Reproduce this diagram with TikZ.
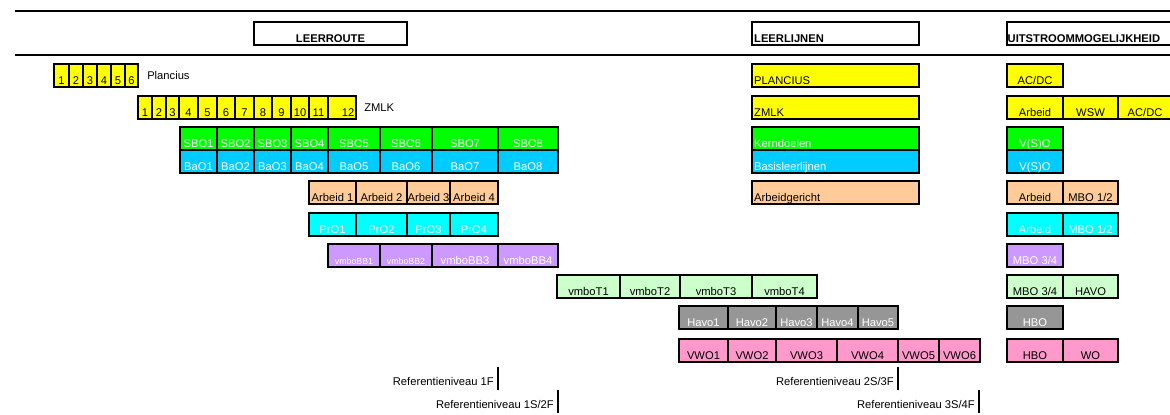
\documentclass[tikz,border=0pt]{standalone}
\usepackage{fontspec}
\setmainfont{Liberation Sans}
\usepackage{xcolor}
\usepackage{tikz}
\usetikzlibrary{positioning}

\definecolor{ylw}{HTML}{FFFF00}
\definecolor{grn}{HTML}{00FF00}
\definecolor{sky}{HTML}{00CCFF}
\definecolor{peach}{HTML}{FFCC99}
\definecolor{aqua}{HTML}{00FFFF}
\definecolor{lilac}{HTML}{CC99FF}
\definecolor{mint}{HTML}{CCFFCC}
\definecolor{grey}{HTML}{969696}
\definecolor{rose}{HTML}{FF99CC}

\begin{document}
\begin{tikzpicture}[x=0.75pt, y=-0.75pt,
		cell/.style={draw, line width=1.4pt, inner sep=0pt, outer sep=0pt, anchor=north west,
			text height=15pt, text depth=2.25pt, font=\fontsize{8.4}{10}\selectfont},
		head/.style={cell, fill=white, font=\fontsize{8.4}{10}\selectfont\bfseries},
		wtxt/.style={text=white},
		lbl/.style={inner sep=0pt, anchor=base west, font=\fontsize{8.4}{10}\selectfont},
		reflbl/.style={inner sep=0pt, anchor=base east, font=\fontsize{8.4}{10}\selectfont},
		hrule/.style={line width=1.4pt}]
			\useasboundingbox (0,0) rectangle (1170,414);

			% kopregel
			\draw[hrule] (15,11) -- (1170,11);
			\draw[hrule] (15,55) -- (1170,55);
			\node[head, minimum width=114.75pt] (hroute) at (254,22) {\makebox[0pt]{LEERROUTE}};
			\node[head, minimum width=125.25pt] (hlijn) at (752,22) {\makebox[122pt][l]{LEERLIJNEN}};
			\node[head, minimum width=126pt] (huit) at (1007,22) {\makebox[125pt][l]{UITSTROOMMOGELIJKHEID}};

			% leerroute
			\foreach \xa/\xb/\lab [count=\i] in {54/69/1,69/83/2,83/97/3,97/111/4,111/125/5,125/138/6}
				\node[cell, fill=ylw, minimum width={(\xb-\xa)*0.75pt}] (pl\i) at (\xa,64) {\makebox[0pt]{\lab}};
			\node[lbl] (plname) at (147,79) {Plancius};

			\foreach \xa/\xb/\lab [count=\i] in {138/152/1,152/166/2,166/179/3,179/198/4,198/217/5,217/235/6,
					235/254/7,254/272/8,272/291/9,291/309/10,309/328/11,328/356/{\hspace*{9pt}12}}
				\node[cell, fill=ylw, minimum width={(\xb-\xa)*0.75pt}] (zm\i) at (\xa,96) {\makebox[0pt]{\lab}};
			\node[lbl] (zmname) at (364,111) {ZMLK};

			\foreach \xa/\xb [count=\i] in {180/217,217/254,254/291,291/328,328/380,380/432,432/498,498/558} {
				\node[cell, wtxt, fill=grn, minimum width={(\xb-\xa)*0.75pt}] (sbo\i) at (\xa,127) {\makebox[0pt]{SBO\i}};
				\node[cell, wtxt, fill=sky, minimum width={(\xb-\xa)*0.75pt}] (bao\i) at (\xa,150) {\makebox[0pt]{BaO\i}};
			}

			\foreach \xa/\xb [count=\i] in {309/356,356/407,407/450,450/498} {
				\node[cell, fill=peach, minimum width={(\xb-\xa)*0.75pt}] (arb\i) at (\xa,181) {\makebox[0pt]{Arbeid \i}};
				\node[cell, wtxt, fill=aqua, minimum width={(\xb-\xa)*0.75pt}] (pro\i) at (\xa,213) {\makebox[0pt]{PrO\i}};
			}

			\foreach \xa/\xb/\lab [count=\i] in {328/380/{\fontsize{6.6}{8}\selectfont vmboBB1},
					380/432/{\fontsize{6.6}{8}\selectfont vmboBB2},432/498/vmboBB3,498/558/vmboBB4}
				\node[cell, wtxt, fill=lilac, minimum width={(\xb-\xa)*0.75pt}] (bb\i) at (\xa,244) {\makebox[0pt]{\lab}};

			\foreach \xa/\xb [count=\i] in {557/620,620/680,680/752,752/817}
				\node[cell, fill=mint, minimum width={(\xb-\xa)*0.75pt}] (vt\i) at (\xa,275) {\makebox[0pt]{vmboT\i}};

			\foreach \xa/\xb [count=\i] in {679/728,728/776,776/817,817/858,858/898}
				\node[cell, wtxt, fill=grey, minimum width={(\xb-\xa)*0.75pt}] (havo\i) at (\xa,306) {\makebox[0pt]{Havo\i}};

			\foreach \xa/\xb [count=\i] in {679/728,728/776,776/837,837/898,898/939,939/980}
				\node[cell, fill=rose, minimum width={(\xb-\xa)*0.75pt}] (vwo\i) at (\xa,339) {\makebox[0pt]{VWO\i}};

			% leerlijnen
			\node[cell, fill=ylw, minimum width=125.25pt] (llpl) at (752,64) {\makebox[122pt][l]{PLANCIUS}};
			\node[cell, fill=ylw, minimum width=125.25pt] (llzm) at (752,96) {\makebox[122pt][l]{ZMLK}};
			\node[cell, wtxt, fill=grn, minimum width=125.25pt] (llkd) at (752,127) {\makebox[122pt][l]{Kerndoelen}};
			\node[cell, wtxt, fill=sky, minimum width=125.25pt] (llbl) at (752,150) {\makebox[122pt][l]{Basisleerlijnen}};
			\node[cell, fill=peach, minimum width=125.25pt] (llag) at (752,181) {\makebox[122pt][l]{Arbeidgericht}};

			% uitstroom
			\node[cell, fill=ylw, minimum width=42pt] (upl) at (1007,64) {\makebox[0pt]{AC/DC}};
			\foreach \xa/\xb/\lab [count=\i] in {1007/1063/Arbeid,1063/1118/WSW,1118/1172/{AC/DC}}
				\node[cell, fill=ylw, minimum width={(\xb-\xa)*0.75pt}] (uzm\i) at (\xa,96) {\makebox[0pt]{\lab}};
			\node[cell, wtxt, fill=grn, minimum width=42pt] (usbo) at (1007,127) {\makebox[0pt]{V(S)O}};
			\node[cell, wtxt, fill=sky, minimum width=42pt] (ubao) at (1007,150) {\makebox[0pt]{V(S)O}};
			\node[cell, fill=peach, minimum width=42pt] (uarb1) at (1007,181) {\makebox[0pt]{Arbeid}};
			\node[cell, fill=peach, minimum width=41.25pt] (uarb2) at (1063,181) {\makebox[0pt]{MBO 1/2}};
			\node[cell, wtxt, fill=aqua, minimum width=42pt] (upro1) at (1007,213) {\makebox[0pt]{Arbeid}};
			\node[cell, wtxt, fill=aqua, minimum width=41.25pt] (upro2) at (1063,213) {\makebox[0pt]{MBO 1/2}};
			\node[cell, wtxt, fill=lilac, minimum width=42pt] (ubb) at (1007,244) {\makebox[0pt]{MBO 3/4}};
			\node[cell, fill=mint, minimum width=42pt] (uvt1) at (1007,275) {\makebox[0pt]{MBO 3/4}};
			\node[cell, fill=mint, minimum width=41.25pt] (uvt2) at (1063,275) {\makebox[0pt]{HAVO}};
			\node[cell, wtxt, fill=grey, minimum width=42pt] (uhavo) at (1007,306) {\makebox[0pt]{HBO}};
			\node[cell, fill=rose, minimum width=42pt] (uvwo1) at (1007,339) {\makebox[0pt]{HBO}};
			\node[cell, fill=rose, minimum width=41.25pt] (uvwo2) at (1063,339) {\makebox[0pt]{WO}};

			% referentieniveaus
			\foreach \x/\y/\lab [count=\i] in {498/367/1F,558/390/{1S/2F},898/367/{2S/3F},979/390/{3S/4F}} {
				\coordinate (rt\i) at (\x,\y);
				\coordinate (rb\i) at (\x,\y+23);
				\draw[hrule] (rt\i) -- (rb\i);
				\node[reflbl] (ref\i) at (\x-4,\y+18) {Referentieniveau \lab};
			}
		\end{tikzpicture}
\end{document}
